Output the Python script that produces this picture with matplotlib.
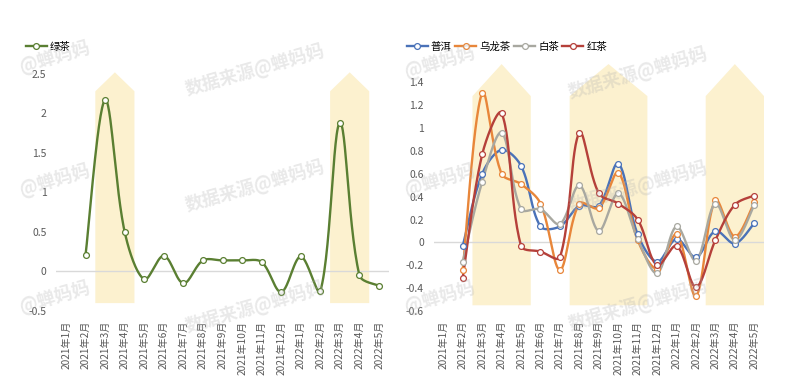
import matplotlib
matplotlib.use("Agg")
import matplotlib.pyplot as plt
from matplotlib.patches import Polygon
from matplotlib.lines import Line2D
import numpy as np

plt.rcParams['font.family'] = ['Noto Sans CJK SC', 'DejaVu Sans']

categories = ["2021年1月", "2021年2月", "2021年3月", "2021年4月", "2021年5月", "2021年6月",
              "2021年7月", "2021年8月", "2021年9月", "2021年10月", "2021年11月", "2021年12月",
              "2022年1月", "2022年2月", "2022年3月", "2022年4月", "2022年5月"]

green_tea = [None, 0.21, 2.17, 0.50, -0.10, 0.20, -0.15, 0.14, 0.14, 0.14, 0.12, -0.26,
             0.19, -0.25, 1.88, -0.05, -0.18]

puer = [None, -0.03, 0.60, 0.81, 0.67, 0.14, 0.14, 0.32, 0.32, 0.69, 0.07, -0.17,
        0.03, -0.13, 0.10, -0.01, 0.17]
oolong = [None, -0.24, 1.31, 0.60, 0.51, 0.34, -0.24, 0.34, 0.30, 0.61, 0.02, -0.23,
          0.07, -0.47, 0.37, 0.05, 0.35]
white_tea = [None, -0.17, 0.53, 0.96, 0.29, 0.29, 0.16, 0.50, 0.10, 0.43, 0.03, -0.27,
             0.14, -0.16, 0.34, 0.02, 0.33]
black_tea = [None, -0.31, 0.77, 1.13, -0.03, -0.08, -0.13, 0.96, 0.43, 0.34, 0.20, -0.20,
             -0.03, -0.39, 0.02, 0.33, 0.41]

left_bands = [(2, 3), (14, 15)]
right_bands = [(2, 4), (7, 10), (14, 16)]

C_GREEN = "#5a7f32"
C_BLUE = "#4a72b8"
C_ORANGE = "#e8863a"
C_GRAY = "#a8a8a0"
C_RED = "#b5403a"
C_BAND = "#fcf1cf"
C_TICK = "#595959"


def smooth(xs, ys, sx_px, sy_px, n=30):
    """Excel-like smoothed Bezier through the points (tangents scaled by segment length)."""
    P = np.column_stack([np.asarray(xs, float), np.asarray(ys, float)])
    S = np.array([sx_px, sy_px])
    m = len(P)
    out = [P[0]]
    t = np.linspace(0, 1, n)[1:]

    def dist(a, b):
        return np.hypot(*((a - b) * S))

    for i in range(m - 1):
        p0 = P[i - 1] if i > 0 else P[i]
        p1 = P[i]
        p2 = P[i + 1]
        p3 = P[i + 2] if i + 2 < m else P[i + 1]
        d01, d12, d23 = dist(p0, p1), dist(p1, p2), dist(p2, p3)
        f1 = (d12 / (d01 + d12)) / 3.0 if (d01 + d12) > 0 else 0
        f2 = (d12 / (d12 + d23)) / 3.0 if (d12 + d23) > 0 else 0
        if i == 0:
            f1 = 1 / 6.0
        if i + 2 >= m:
            f2 = 1 / 6.0
        c1 = p1 + (p2 - p0) * f1
        c2 = p2 - (p3 - p1) * f2
        for tt in t:
            b = ((1 - tt) ** 3) * p1 + 3 * ((1 - tt) ** 2) * tt * c1 + 3 * (1 - tt) * tt ** 2 * c2 + tt ** 3 * p2
            out.append(b)
    out = np.array(out)
    return out[:, 0], out[:, 1]


def draw_series(ax, vals, color, sx_px, sy_px):
    idx = [i for i, v in enumerate(vals) if v is not None]
    ys = [vals[i] for i in idx]
    cx, cy = smooth(idx, ys, sx_px, sy_px)
    ax.plot(cx, cy, color=color, lw=1.7, zorder=3, solid_capstyle='round')
    ax.plot(idx, ys, ls='none', marker='o', ms=4.2, mfc='white', mec=color, mew=0.9, zorder=4)


def draw_band(ax, start, end, bottom, shoulder, apex):
    x0, x1 = start - 0.5, end + 0.5
    xm = (x0 + x1) / 2
    poly = Polygon([(x0, bottom), (x1, bottom), (x1, shoulder), (xm, apex), (x0, shoulder)],
                   closed=True, facecolor=C_BAND, edgecolor='none', zorder=1)
    ax.add_patch(poly)


def style_axis(ax, yticks, ylim):
    x = np.arange(len(categories))
    ax.set_xlim(-0.5, len(categories) - 0.5)
    ax.set_ylim(*ylim)
    ax.set_xticks(x)
    ax.set_xticklabels(categories, rotation=90, fontsize=7.3, color=C_TICK)
    ax.set_yticks(yticks)
    ax.set_yticklabels([("%g" % v) for v in yticks], fontsize=7.5, color=C_TICK)
    ax.tick_params(axis='both', length=0)
    ax.tick_params(axis='y', pad=7)
    ax.tick_params(axis='x', pad=7)
    for s in ax.spines.values():
        s.set_visible(False)
    ax.axhline(0, color="#d9d9d9", lw=1.0, zorder=2)


fig = plt.figure(figsize=(8, 3.92), dpi=100)
fig.patch.set_facecolor('white')

# Left panel
axL = fig.add_axes([56.2 / 800, 81 / 392, (388.8 - 56.2) / 800, (311 - 66) / 392])
for s, e in left_bands:
    draw_band(axL, s, e, -0.4, 2.28, 2.52)
draw_series(axL, green_tea, C_GREEN, 19.56, 79.0)
style_axis(axL, [-0.5, 0, 0.5, 1, 1.5, 2, 2.5], (-0.5, 2.6))

# Right panel
axR = fig.add_axes([433.6 / 800, 81 / 392, (764 - 433.6) / 800, (311 - 59.5) / 392])
for s, e in right_bands:
    draw_band(axR, s, e, -0.55, 1.28, 1.56)
for vals, col in [(puer, C_BLUE), (oolong, C_ORANGE), (white_tea, C_GRAY), (black_tea, C_RED)]:
    draw_series(axR, vals, col, 19.44, 114.3)
style_axis(axR, [-0.6, -0.4, -0.2, 0, 0.2, 0.4, 0.6, 0.8, 1, 1.2, 1.4], (-0.6, 1.6))


def handle(color):
    return Line2D([], [], color=color, lw=1.7, marker='o', ms=4.2, mfc='white', mec=color, mew=0.9)


fig.legend([handle(C_GREEN)], ["绿茶"], loc='center left', bbox_to_anchor=(26 / 800, 1 - 47 / 392),
           frameon=False, fontsize=7.5, handlelength=2.0, handletextpad=0.3, borderaxespad=0, borderpad=0)
fig.legend([handle(C_BLUE), handle(C_ORANGE), handle(C_GRAY), handle(C_RED)],
           ["普洱", "乌龙茶", "白茶", "红茶"], loc='center left', ncol=4,
           bbox_to_anchor=(407 / 800, 1 - 47 / 392), frameon=False, fontsize=7.5,
           handlelength=2.0, handletextpad=0.3, columnspacing=0.35, borderaxespad=0, borderpad=0)

# watermarks
wm_kw = dict(rotation=16, fontsize=13, color="#b0b0b0", alpha=0.28, ha='center', va='center',
             fontweight='bold', zorder=10)
for (x, y) in [(255, 70), (255, 186), (255, 307), (638, 73), (638, 187), (638, 305)]:
    fig.text(x / 800, 1 - y / 392, "数据来源@蝉妈妈", **wm_kw)
for (x, y) in [(55, 57), (55, 180), (55, 297), (440, 62), (440, 180), (440, 297)]:
    fig.text(x / 800, 1 - y / 392, "@蝉妈妈", **wm_kw)

fig.savefig("out.png", dpi=100, facecolor='white')
